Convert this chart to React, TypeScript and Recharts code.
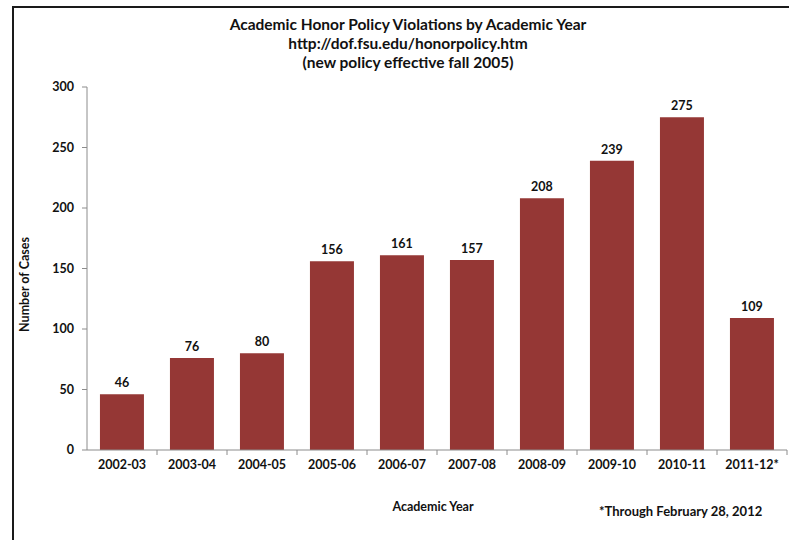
import React from 'react';
import { BarChart, Bar, XAxis, YAxis, LabelList, Label } from 'recharts';

const years = ['2002-03', '2003-04', '2004-05', '2005-06', '2006-07', '2007-08', '2008-09', '2009-10', '2010-11', '2011-12*'];
const cases = [46, 76, 80, 156, 161, 157, 208, 239, 275, 109];
const yTicks = [0, 50, 100, 150, 200, 250, 300];

const data = years.map((year, i) => ({ year, cases: cases[i] }));

const font = 'Lato, "Open Sans", sans-serif';
const W = 789;
const H = 540;
const margin = { top: 87, right: 2, left: 12, bottom: 60 };
const yAxisWidth = 75;

// Excel-style category ticks sit on the band edges, not the centres
const bandWidth = (W - margin.left - margin.right - yAxisWidth) / years.length;

const XTick = (props: any) => {
  const { x, y, payload, index } = props;
  const left = x - bandWidth / 2;
  return (
    <g>
      {index > 0 && <line x1={left} x2={left} y1={y - 8} y2={y - 3} stroke="#8c8c8c" />}
      {index === years.length - 1 && (
        <line x1={left + bandWidth} x2={left + bandWidth} y1={y - 8} y2={y - 3} stroke="#8c8c8c" />
      )}
      <text x={x} y={y + 11} textAnchor="middle" fontFamily={font} fontWeight={700} fontSize={12.5} fill="#111">
        {payload.value}
      </text>
    </g>
  );
};

const App: React.FC = () => {
  return (
    <div style={{ position: 'fixed', left: 0, top: 0, width: W, height: H, background: '#fff', overflow: 'hidden' }}>
      <div style={{ position: 'absolute', left: 12, top: 6, width: W, height: H, borderLeft: '2px solid #1a1a1a', borderTop: '2px solid #1a1a1a' }} />
      <div style={{ position: 'absolute', left: 158, width: 500, top: 15, textAlign: 'center', fontFamily: font, fontWeight: 700, fontSize: 15.5, lineHeight: '19px', color: '#111' }}>
        <div>Academic Honor Policy Violations by Academic Year</div>
        <div>http://dof.fsu.edu/honorpolicy.htm</div>
        <div>(new policy effective fall 2005)</div>
      </div>
      <BarChart width={W} height={H} data={data} margin={margin} barCategoryGap="18.5%">
        <XAxis
          dataKey="year"
          height={30}
          tickLine={false}
          axisLine={{ stroke: '#8c8c8c' }}
          tick={<XTick />}
          interval={0}
        >
          <Label value="Academic Year" position="bottom" offset={22} fontFamily={font} fontWeight={700} fontSize={12.5} fill="#111" dx={-4} />
        </XAxis>
        <YAxis
          width={yAxisWidth}
          domain={[0, 300]}
          ticks={yTicks}
          interval={0}
          axisLine={{ stroke: '#8c8c8c' }}
          tickLine={{ stroke: '#8c8c8c' }}
          tickSize={5}
          tickMargin={8}
          tick={{ fontFamily: font, fontWeight: 700, fontSize: 12.5, fill: '#111' }}
        >
          <Label
            value="Number of Cases"
            angle={-90}
            position="insideLeft"
            offset={13}
            dy={16}
            textAnchor="middle"
            fontFamily={font}
            fontWeight={700}
            fontSize={12.5}
            fill="#111"
          />
        </YAxis>
        <Bar dataKey="cases" fill="#953735" isAnimationActive={false}>
          <LabelList dataKey="cases" position="top" offset={7} fontFamily={font} fontWeight={700} fontSize={12.5} fill="#111" />
        </Bar>
      </BarChart>
      <div style={{ position: 'absolute', left: 599, top: 503, fontFamily: font, fontWeight: 700, fontSize: 13, color: '#111' }}>
        *Through February 28, 2012
      </div>
    </div>
  );
};

export default App;
